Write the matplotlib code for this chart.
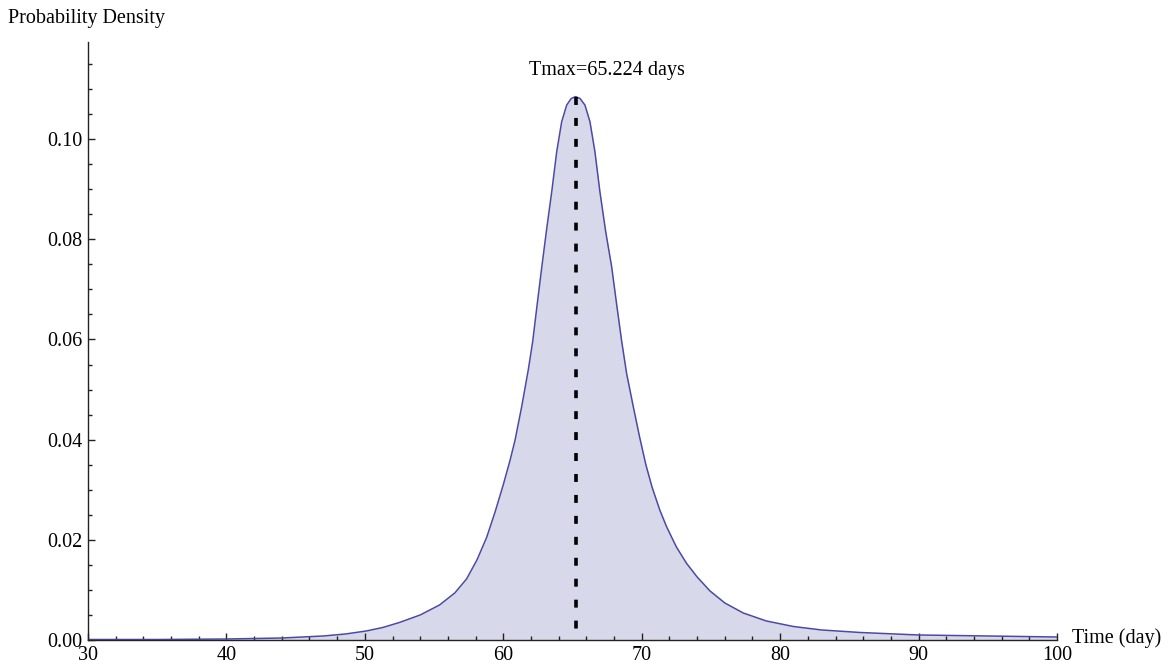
import matplotlib.pyplot as plt
from matplotlib.ticker import MultipleLocator

# values
time_days = [30.0, 35.0, 40.0, 44.0, 47.0, 48.6, 50.1, 51.3, 52.5, 54.0, 55.4, 56.5, 57.35,
             58.1, 58.8, 59.4, 60.0, 60.5, 60.85, 61.33, 61.81, 62.13, 62.43, 62.77, 63.14,
             63.5, 63.86, 64.22, 64.58, 64.9, 65.224, 65.55, 65.9, 66.26, 66.62, 66.98,
             67.4, 67.83, 68.19, 68.55, 68.91, 69.39, 69.85, 70.3, 70.75, 71.3, 71.8,
             72.5, 73.24, 74.0, 74.93, 76.0, 77.33, 79.0, 80.95, 83.0, 85.77, 90.0,
             95.0, 100.0]
density = [0.0001, 0.0001, 0.0002, 0.0004, 0.0008, 0.0012, 0.0018, 0.0025, 0.0035, 0.0050,
           0.0070, 0.0094, 0.0122, 0.0160, 0.0205, 0.0255, 0.0310, 0.0360, 0.0399, 0.0466,
           0.0540, 0.0597, 0.0666, 0.0742, 0.0822, 0.0895, 0.0975, 0.1035, 0.1068, 0.1081,
           0.1085, 0.1081, 0.1068, 0.1035, 0.0975, 0.0895, 0.0815, 0.0745, 0.0670, 0.0597,
           0.0532, 0.0466, 0.0405, 0.0350, 0.0305, 0.0260, 0.0226, 0.0186, 0.0153, 0.0126,
           0.0098, 0.0074, 0.0054, 0.0038, 0.0027, 0.0020, 0.0015, 0.0010, 0.0008, 0.0006]
t_max = 65.224
p_max = 0.1085

plt.rcParams['font.family'] = ['Liberation Serif', 'DejaVu Serif']
plt.rcParams['font.size'] = 14.5

line_color = '#4a4aa4'
fill_color = '#d8d8eb'

fig = plt.figure(figsize=(11.68, 6.71), dpi=100)
ax = fig.add_axes([88 / 1168, 31 / 671, 969 / 1168, 598 / 671])

ax.fill_between(time_days, 0, density, color=fill_color, lw=0)
ax.plot(time_days, density, color=line_color, lw=1.1)
# dotted marker drawn from the peak down so the first dash sits at the top
ax.plot([t_max, t_max], [p_max, 0], color='black', lw=2.6, dashes=(2.2, 3.6))

ax.text(67.5, 0.1138, 'Tmax=65.224 days', ha='center', va='center')

ax.set_xlim(30, 100)
ax.set_ylim(0, 0.1194)
ax.xaxis.set_major_locator(MultipleLocator(10))
ax.xaxis.set_minor_locator(MultipleLocator(2))
ax.yaxis.set_major_locator(MultipleLocator(0.02))
ax.yaxis.set_minor_locator(MultipleLocator(0.005))
ax.yaxis.set_major_formatter(lambda v, pos: f'{v:.2f}')
ax.tick_params(which='both', direction='in', width=1, colors='#222222', labelcolor='black')
ax.tick_params(which='major', length=5, pad=4)
ax.tick_params(which='minor', length=3)

for side in ['top', 'right']:
    ax.spines[side].set_visible(False)
for side in ['left', 'bottom']:
    ax.spines[side].set_color('#222222')
    ax.spines[side].set_linewidth(1.0)

ax.annotate('Time (day)', xy=(1, 0), xycoords='axes fraction', xytext=(11, 1),
            textcoords='offset points', ha='left', va='center')
fig.text(8 / 1168, 1 - 19 / 671, 'Probability Density', ha='left', va='center')

fig.savefig('out.png', dpi=100)
